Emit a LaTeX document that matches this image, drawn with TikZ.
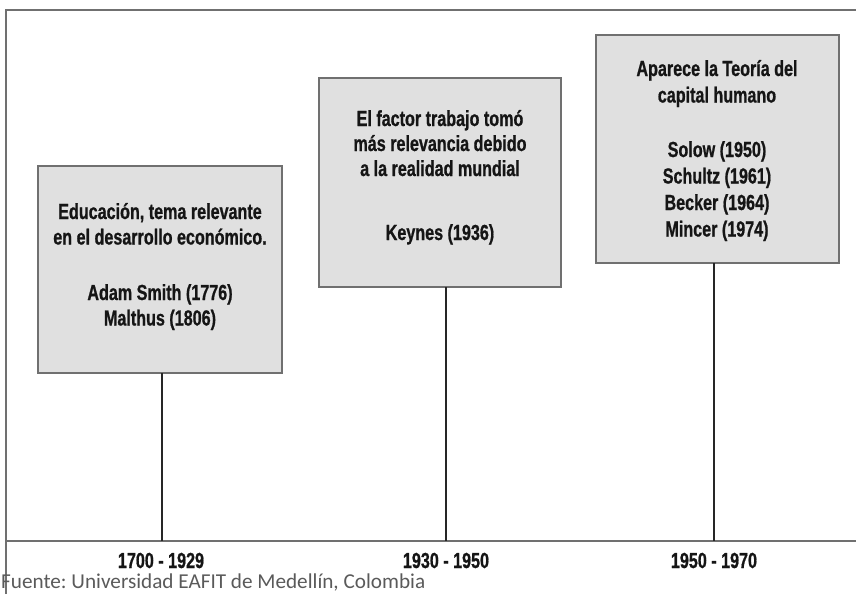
\documentclass[tikz,border=0pt]{standalone}
\usepackage{fontspec}
\setmainfont{Liberation Sans}[FakeStretch=0.74,BoldFeatures={FakeBold=0.8}]
\newfontfamily\srcfont{Carlito}
\definecolor{framegray}{HTML}{707070}
\definecolor{boxfill}{HTML}{E0E0E0}
\definecolor{txt}{HTML}{151515}
\definecolor{srcgray}{HTML}{5A5A5A}
\begin{document}
\begin{tikzpicture}[x=1pt,y=-1pt,
  frame/.style={draw=framegray,line width=1.8pt},
  stem/.style={draw=black!85,line width=1.4pt},
  period/.style={draw=framegray,line width=1.6pt,fill=boxfill},
  lbl/.style={inner sep=0pt,anchor=base,text=txt,font=\fontsize{21.8}{24}\selectfont\bfseries},
  src/.style={inner sep=0pt,anchor=base west,text=srcgray,font=\srcfont\fontsize{21.2}{24}\selectfont\frenchspacing}]
\useasboundingbox (0,0) rectangle (856,594);
% frame
\coordinate (fl) at (6,594);
\coordinate (ftl) at (6,10);
\coordinate (ftr) at (856,10);
\coordinate (axl) at (6,541);
\coordinate (axr) at (856,541);
\draw[frame] (fl) -- (ftl) -- (ftr);
\draw[frame] (axl) -- (axr);
% boxes
\path[period] (38,166) rectangle (282,373);
\node[inner sep=0pt,minimum width=244pt,minimum height=207pt] (b1) at (160,269.5) {};
\path[period] (319,78) rectangle (561,287);
\node[inner sep=0pt,minimum width=242pt,minimum height=209pt] (b2) at (440,182.5) {};
\path[period] (596,35) rectangle (839,263);
\node[inner sep=0pt,minimum width=243pt,minimum height=228pt] (b3) at (717.5,149) {};
% ticks on axis
\coordinate (a1) at (162,541);
\coordinate (a2) at (446,541);
\coordinate (a3) at (714,541);
\draw[stem] (162,373) coordinate (s1) -- (a1);
\draw[stem] (446,287) coordinate (s2) -- (a2);
\draw[stem] (714,263) coordinate (s3) -- (a3);
% box 1 text
\node[lbl] (t11) at (160,219) {Educación, tema relevante};
\node[lbl] (t12) at (160,244.5) {en el desarrollo económico.};
\node[lbl] (t13) at (160,300) {Adam Smith (1776)};
\node[lbl] (t14) at (160,325.5) {Malthus (1806)};
% box 2 text
\node[lbl] (t21) at (440,126) {El factor trabajo tomó};
\node[lbl] (t22) at (440,151) {más relevancia debido};
\node[lbl] (t23) at (440,176) {a la realidad mundial};
\node[lbl] (t24) at (440,240) {Keynes (1936)};
% box 3 text
\node[lbl] (t31) at (717,76) {Aparece la Teoría del};
\node[lbl] (t32) at (717,102.5) {capital humano};
\node[lbl] (t33) at (717,157) {Solow (1950)};
\node[lbl] (t34) at (717,183.5) {Schultz (1961)};
\node[lbl] (t35) at (717,210) {Becker (1964)};
\node[lbl] (t36) at (717,236.5) {Mincer (1974)};
% period labels
\node[lbl] (p1) at (161,568) {1700 - 1929};
\node[lbl] (p2) at (446,568) {1930 - 1950};
\node[lbl] (p3) at (714,568) {1950 - 1970};
% source
\node[src] (fuente) at (1,588.5) {Fuente: Universidad EAFIT de Medellín, Colombia};
\end{tikzpicture}
\end{document}
